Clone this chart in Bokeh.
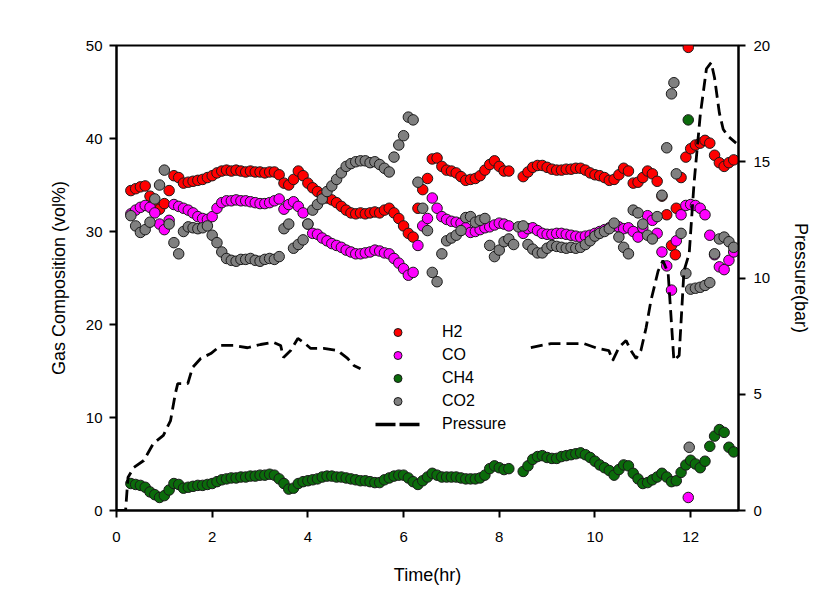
from bokeh.plotting import figure
from bokeh.models import Range1d, LinearAxis, FixedTicker, Legend, LegendItem
from bokeh.embed import file_html
from bokeh.resources import INLINE

nan = float("nan")

# Sampling times (hr)
time_hr = [0.3, 0.4, 0.5, 0.6, 0.7, 0.8, 0.9,
           1.0, 1.1, 1.2, 1.3, 1.4, 1.5, 1.6, 1.7, 1.8, 1.9,
           2.0, 2.1, 2.2, 2.3, 2.4, 2.5, 2.6, 2.7, 2.8, 2.9,
           3.0, 3.1, 3.2, 3.3, 3.4, 3.5, 3.6, 3.7, 3.8, 3.9,
           4.0, 4.1, 4.2, 4.3, 4.4, 4.5, 4.6, 4.7, 4.8, 4.9,
           5.0, 5.1, 5.2, 5.3, 5.4, 5.5, 5.6, 5.7, 5.8, 5.9,
           6.0, 6.1, 6.2, 6.3, 6.4, 6.5, 6.6, 6.7, 6.8, 6.9,
           7.0, 7.1, 7.2, 7.3, 7.4, 7.5, 7.6, 7.7, 7.8, 7.9,
           8.0, 8.1, 8.2, 8.3, 8.4, 8.5, 8.6, 8.7, 8.8, 8.9,
           9.0, 9.1, 9.2, 9.3, 9.4, 9.5, 9.6, 9.7, 9.8, 9.9,
           10.0, 10.1, 10.2, 10.3, 10.4, 10.5, 10.6, 10.7, 10.8, 10.9,
           11.0, 11.1, 11.2, 11.3, 11.4, 11.5, 11.6, 11.7, 11.8, 11.9,
           12.0, 12.1, 12.2, 12.3, 12.4, 12.5, 12.6, 12.7, 12.8, 12.9]

h2 = [34.4, 34.6, 34.8, 34.9, 33.8, 33.0, 32.4,
      33.0, 34.4, 36.0, 35.8, 35.2, 35.3, 35.4, 35.5, 35.6, 35.8,
      36.0, 36.3, 36.5, 36.6, 36.5, 36.6, 36.5, 36.4, 36.5, 36.4,
      36.4, 36.3, 36.4, 36.4, 36.1, 35.2, 35.0, 35.6, 36.5, 36.0,
      35.2, 34.7, 34.3, 33.9, 33.6, 33.4, 33.1, 32.7, 32.3, 32.0,
      31.9, 32.0, 31.9, 32.0, 32.1, 32.0, 32.3, 32.5, 32.0, 31.4,
      30.6, 29.8, 29.4, 32.5, 34.5, 35.7, 37.8, 37.9, 37.0, 36.6,
      36.5, 36.3, 35.9, 35.5, 35.6, 35.7, 36.0, 36.6, 37.2, 37.6,
      37.0, 36.5, 36.5, nan, nan, 35.9, 36.4, 36.9, 37.1, 37.1,
      36.9, 36.7, 36.6, 36.6, 36.7, 36.7, 36.8, 36.8, 36.6, 36.3,
      36.1, 36.0, 35.8, 35.5, 35.6, 36.1, 36.8, 36.5, 35.2, 35.3,
      35.8, 36.5, 36.2, 35.4, 33.8, 31.8, 28.5, 32.5, 35.8, 38.0,
      38.9, 39.3, 39.5, 39.8, 39.5, 38.2, 37.4, 37.0, 37.4, 37.7]

co = [31.9, 32.3, 32.6, 32.8, 32.6, 32.0, 30.8,
      30.2, 31.2, 32.9, 32.7, 32.5, 32.3, 32.0, 31.6, 31.4, 31.3,
      31.6, 32.5, 33.1, 33.3, 33.3, 33.4, 33.3, 33.3, 33.2, 33.1,
      33.0, 33.0, 33.1, 33.3, 33.5, 32.4, 32.9, 33.2, 32.7, 32.0,
      30.8, 29.8, 29.7, 29.3, 29.0, 28.7, 28.5, 28.3, 28.0, 27.8,
      27.6, 27.6, 27.7, 27.8, 28.0, 27.9, 27.7, 27.6, 27.1, 26.6,
      26.0, 25.3, 25.6, 28.5, 30.6, 31.4, 33.6, 32.5, 31.6, 31.3,
      31.1, 31.0, 30.9, 30.4, 29.9, 30.0, 30.2, 30.4, 30.5, 30.7,
      30.9, 30.8, 30.6, nan, nan, 29.8, 30.3, 30.4, 30.1, 29.8,
      29.7, 29.7, 29.8, 29.8, 29.7, 29.6, 29.5, 29.4, 29.5, 29.6,
      29.8, 30.0, 30.2, 30.4, 30.6, 30.5, 30.3, 30.4, 30.0, 29.4,
      30.4, 31.7, 31.2, 29.8, 27.8, 26.3, 23.7, 29.0, 31.8, 32.8,
      32.9, 32.8, 32.5, 31.8, 29.6, 27.5, 26.2, 25.9, 26.9, 27.8]

ch4 = [2.9, 2.8, 2.7, 2.5, 2.0, 1.7, 1.4,
       1.6, 2.2, 2.9, 2.8, 2.4, 2.5, 2.6, 2.7, 2.7, 2.8,
       2.9, 3.1, 3.3, 3.4, 3.5, 3.5, 3.6, 3.6, 3.7, 3.7,
       3.8, 3.8, 3.9, 3.8, 3.4, 2.9, 2.3, 2.4, 2.9, 3.1,
       3.2, 3.3, 3.4, 3.6, 3.7, 3.7, 3.6, 3.6, 3.5, 3.4,
       3.3, 3.2, 3.2, 3.1, 3.0, 3.0, 3.3, 3.5, 3.7, 3.8,
       3.8, 3.5, 3.1, 2.8, 3.2, 3.6, 4.0, 3.8, 3.6, 3.6,
       3.6, 3.6, 3.5, 3.4, 3.4, 3.4, 3.5, 3.8, 4.5, 4.8,
       4.6, 4.4, 4.5, nan, nan, 4.2, 4.8, 5.5, 5.8, 5.9,
       5.7, 5.6, 5.6, 5.8, 5.9, 6.0, 6.1, 6.2, 6.0, 5.7,
       5.3, 4.9, 4.6, 4.3, 3.8, 4.4, 4.9, 4.8, 4.0, 3.4,
       2.9, 3.0, 3.3, 3.6, 4.0, 3.6, 3.1, 3.2, 4.1, 4.9,
       5.4, 5.0, 4.6, 5.3, 6.9, 8.0, 8.7, 8.4, 6.8, 6.3]

co2 = [31.7, 30.6, 29.9, 30.2, 31.0, 33.5, 35.0,
       36.6, 30.8, 28.8, 27.6, 30.0, 30.5, 30.4, 30.3, 30.4, 30.6,
       29.6, 28.8, 27.8, 27.1, 26.9, 26.8, 27.0, 27.0, 27.1, 26.9,
       26.8, 27.0, 27.1, 27.0, 27.3, 30.3, 30.8, 28.2, 28.6, 29.1,
       30.8, 32.3, 32.9, 33.5, 34.3, 34.9, 35.6, 36.3, 37.0, 37.3,
       37.5, 37.6, 37.6, 37.4, 37.5, 37.2, 36.8, 36.4, 38.0, 39.3,
       40.3, 42.3, 42.0, 35.3, 32.5, 30.1, 25.6, 24.6, 27.6, 29.0,
       29.3, 29.6, 30.1, 31.5, 31.6, 31.0, 31.2, 31.4, 28.5, 27.3,
       28.0, 28.9, 29.2, 28.6, 30.5, 30.6, 28.6, 28.1, 27.7, 27.7,
       28.2, 28.5, 28.4, 28.3, 28.2, 28.3, 28.2, 28.3, 28.6, 29.0,
       29.5, 29.8, 30.0, 30.3, 30.9, 29.4, 28.3, 27.6, 32.3, 32.0,
       30.8, 29.6, 29.2, 31.6, 33.9, 39.0, 44.8, 36.2, 29.8, 25.5,
       23.8, 23.9, 24.0, 24.2, 24.5, 27.6, 29.2, 29.4, 28.9, 28.3]

# Stray single readings
h2_extra_t, h2_extra_v = [11.95, 11.68], [49.8, 27.5]
co_extra_t, co_extra_v = [11.95], [1.4]
ch4_extra_t, ch4_extra_v = [11.95], [42.0]
co2_extra_t, co2_extra_v = [11.65, 11.97], [46.0, 6.8]

# Pressure (bar), right axis; nan = no record
pressure_t = [0, 0.19, 0.24, 0.36, 0.57, 0.77, 0.98, 1.13, 1.23, 1.28, 1.49, 1.59,
              1.76, 1.97, 2.18, 2.45, 2.74, 3.01, 3.28, 3.43, 3.49, 3.64, 3.79, 3.91,
              4.06, 4.33, 4.62, 4.83, 4.96, 5.1, nan, 8.66, 9.08, 9.5, 9.77, 10.06,
              10.29, 10.37, 10.5, 10.65, 10.75, 10.86, 10.96, 11.07, 11.17, 11.32,
              11.42, 11.53, 11.65, 11.76, 11.86, 11.97, 12.07, 12.2, 12.33, 12.43,
              12.5, 12.6, 12.68, 12.78, 12.95]
pressure_bar = [0, 0, 1.42, 1.85, 2.15, 2.88, 3.23, 3.87, 5.03, 5.46, 5.46, 6.15,
                6.54, 6.75, 7.1, 7.1, 7.0, 7.14, 7.23, 7.1, 6.58, 6.88, 7.4, 7.23,
                6.97, 6.97, 6.88, 6.54, 6.24, 6.1, nan, 7.01, 7.18, 7.18, 7.18, 6.97,
                6.88, 6.45, 7.01, 7.31, 6.88, 6.54, 6.88, 7.87, 9.03, 10.3,
                10.75, 10.2, 6.45, 6.67, 10.3, 11.05, 14.06, 17.0, 19.0, 19.27,
                18.6, 17.1, 16.4, 16.1, 15.8]

x_ticks = [0, 2, 4, 6, 8, 10, 12]
y_ticks = [0, 10, 20, 30, 40, 50]
p_ticks = [0, 5, 10, 15, 20]

FONT = "Liberation Sans"

p = figure(width=836, height=598, output_backend="svg", toolbar_location=None,
           title=None, x_range=Range1d(0, 13), y_range=Range1d(0, 50),
           min_border_left=116, min_border_right=98, min_border_top=45,
           min_border_bottom=88)
p.extra_y_ranges = {"p": Range1d(0, 20)}
p.xgrid.visible = False
p.ygrid.visible = False
p.outline_line_color = "black"
p.outline_line_width = 2
p.background_fill_color = "white"
p.border_fill_color = "white"

p.xaxis.ticker = FixedTicker(ticks=x_ticks)
p.yaxis.ticker = FixedTicker(ticks=y_ticks)
p.xaxis.axis_label = "Time(hr)"
p.yaxis.axis_label = "Gas Composition (vol%)"

right = LinearAxis(y_range_name="p", axis_label="Pressure(bar)",
                   ticker=FixedTicker(ticks=p_ticks))
p.add_layout(right, "right")

for ax in [p.xaxis[0], p.yaxis[0], right]:
    ax.axis_line_width = 2
    ax.axis_line_color = "black"
    ax.major_tick_line_width = 2
    ax.major_tick_in = 0
    ax.major_tick_out = 7
    ax.minor_tick_line_color = None
    ax.major_label_text_font = FONT
    ax.major_label_text_font_size = "15px"
    ax.major_label_text_color = "black"
    ax.axis_label_text_font = FONT
    ax.axis_label_text_font_size = "18px"
    ax.axis_label_text_font_style = "normal"
    ax.axis_label_text_color = "black"

p.xaxis.major_label_standoff = 14
p.xaxis.axis_label_standoff = 20
p.yaxis.major_label_standoff = 7
p.yaxis.axis_label_standoff = 14
right.major_label_standoff = 8
right.axis_label_standoff = 18

def scat(t, v, et, ev, color):
    return p.scatter(t + et, v + ev, marker="circle", size=10.5,
                     fill_color=color, line_color="#1a1a1a", line_width=1)

r_h2 = scat(time_hr, h2, h2_extra_t, h2_extra_v, "#ff0000")
r_co = scat(time_hr, co, co_extra_t, co_extra_v, "#ff00ff")
r_ch4 = scat(time_hr, ch4, ch4_extra_t, ch4_extra_v, "#0b6b0b")
r_co2 = scat(time_hr, co2, co2_extra_t, co2_extra_v, "#808080")

p.line(pressure_t, pressure_bar, y_range_name="p", line_color="black",
       line_width=2.8, line_dash="12 6")
# legend-only sample of the pressure line style (no visible data)
r_pleg = p.line([nan, nan], [nan, nan], y_range_name="p", line_color="black",
                line_width=3.5, line_dash="20 4")

legend = Legend(items=[
    LegendItem(label="H2", renderers=[r_h2]),
    LegendItem(label="CO", renderers=[r_co]),
    LegendItem(label="CH4", renderers=[r_ch4]),
    LegendItem(label="CO2", renderers=[r_co2]),
    LegendItem(label="Pressure", renderers=[r_pleg]),
], location=(259, 76))
legend.border_line_color = None
legend.background_fill_alpha = 0
legend.padding = 0
legend.margin = 0
legend.spacing = 3
legend.glyph_width = 45
legend.glyph_height = 20
legend.label_height = 20
legend.label_standoff = 22
legend.label_text_font = FONT
legend.label_text_font_size = "16px"
legend.label_text_color = "black"
p.add_layout(legend, "center")

open("out.html", "w").write(file_html(p, INLINE))
